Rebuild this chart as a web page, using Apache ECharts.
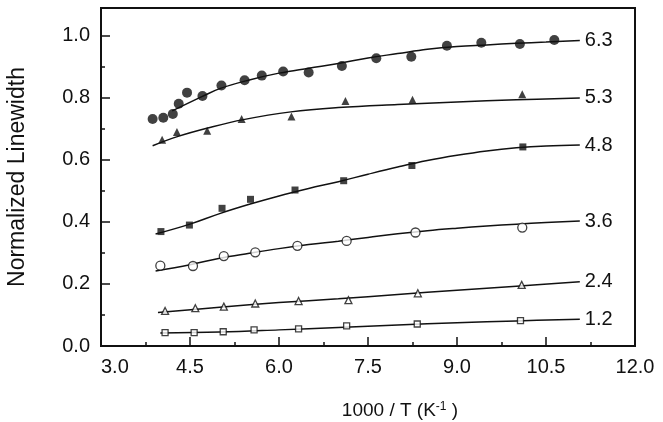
<!DOCTYPE html>
<html>
<head>
<meta charset="utf-8">
<script src="https://cdn.jsdelivr.net/npm/echarts@6/dist/echarts.min.js"></script>
<style>
  html, body { margin: 0; padding: 0; background: #fff; }
  #chart { width: 663px; height: 422px; }
</style>
</head>
<body>
<div id="chart"></div>
<script>
// curve labels (right side)
var curveNames = ["6.3", "5.3", "4.8", "3.6", "2.4", "1.2"];

// measured points [1000/T, normalized linewidth]
var pts63 = [[3.87, 0.732], [4.05, 0.736], [4.21, 0.748], [4.31, 0.781], [4.45, 0.817], [4.71, 0.806],
  [5.03, 0.840], [5.42, 0.857], [5.71, 0.872], [6.07, 0.885], [6.50, 0.882], [7.06, 0.903],
  [7.64, 0.928], [8.23, 0.933], [8.83, 0.968], [9.41, 0.978], [10.06, 0.974], [10.64, 0.987]];
var pts53 = [[4.03, 0.665], [4.28, 0.690], [4.79, 0.694], [5.37, 0.732], [6.21, 0.740], [7.12, 0.790],
  [8.25, 0.794], [10.10, 0.812]];
var pts48 = [[4.01, 0.369], [4.49, 0.390], [5.04, 0.444], [5.52, 0.473], [6.27, 0.503], [7.09, 0.533],
  [8.24, 0.582], [10.11, 0.642]];
var pts36 = [[4.00, 0.259], [4.55, 0.258], [5.07, 0.290], [5.60, 0.302], [6.31, 0.323], [7.14, 0.339],
  [8.30, 0.366], [10.10, 0.382]];
var pts24 = [[4.08, 0.113], [4.59, 0.122], [5.07, 0.127], [5.60, 0.137], [6.33, 0.145], [7.17, 0.148],
  [8.34, 0.170], [10.09, 0.197]];
var pts12 = [[4.08, 0.043], [4.57, 0.043], [5.06, 0.046], [5.58, 0.052], [6.33, 0.055], [7.14, 0.065],
  [8.33, 0.071], [10.07, 0.082]];

// fitted curves
var fit63 = [[4.2, 0.758], [4.7, 0.804], [5.0, 0.830], [5.5, 0.858], [6.0, 0.880], [6.5, 0.896],
  [7.0, 0.911], [7.5, 0.929], [8.0, 0.943], [8.5, 0.957], [9.0, 0.966], [9.5, 0.971],
  [10.0, 0.976], [10.5, 0.980], [11.07, 0.985]];
var fit53 = [[3.87, 0.646], [4.3, 0.676], [4.8, 0.703], [5.4, 0.730], [6.2, 0.755], [7.0, 0.769],
  [8.0, 0.779], [9.0, 0.787], [10.0, 0.794], [11.07, 0.800]];
var fit48 = [[3.92, 0.361], [4.5, 0.393], [5.0, 0.427], [5.5, 0.457], [6.0, 0.484], [6.5, 0.508],
  [7.0, 0.530], [7.5, 0.554], [8.0, 0.577], [8.5, 0.598], [9.0, 0.615], [9.5, 0.629],
  [10.0, 0.639], [10.5, 0.645], [11.07, 0.648]];
var fit36 = [[3.92, 0.242], [4.5, 0.262], [5.0, 0.283], [5.5, 0.299], [6.0, 0.314], [6.5, 0.327],
  [7.0, 0.338], [7.5, 0.350], [8.0, 0.362], [8.5, 0.372], [9.0, 0.380], [9.5, 0.387],
  [10.0, 0.393], [10.5, 0.398], [11.07, 0.403]];
var fit24 = [[3.96, 0.108], [5.0, 0.125], [6.0, 0.140], [7.0, 0.152], [8.0, 0.166], [9.0, 0.180],
  [10.0, 0.193], [11.07, 0.207]];
var fit12 = [[4.0, 0.042], [5.0, 0.045], [6.0, 0.052], [7.0, 0.060], [8.0, 0.068], [9.0, 0.075],
  [10.0, 0.081], [11.07, 0.086]];

var ink = "#111";
var font = "'Liberation Sans', Arial, sans-serif";

var markers = [
  { data: pts63, symbol: "circle", size: 10, open: false },
  { data: pts53, symbol: "triangle", size: 8, open: false },
  { data: pts48, symbol: "rect", size: 7, open: false },
  { data: pts36, symbol: "circle", size: 9, open: true },
  { data: pts24, symbol: "triangle", size: 7, open: true },
  { data: pts12, symbol: "rect", size: 6, open: true }
];
var fits = [fit63, fit53, fit48, fit36, fit24, fit12];

var series = [];
fits.forEach(function (fit, i) {
  series.push({
    type: "line",
    data: fit,
    smooth: 0.4,
    showSymbol: false,
    silent: true,
    z: 1,
    lineStyle: { color: ink, width: 1.5 },
    endLabel: {
      show: true,
      formatter: curveNames[i],
      color: ink,
      fontSize: 20,
      fontFamily: font,
      distance: 5
    }
  });
});
markers.forEach(function (m) {
  series.push({
    type: "scatter",
    data: m.data,
    symbol: m.symbol,
    symbolSize: m.size,
    z: 3,
    itemStyle: m.open
      ? { color: "#fff", borderColor: ink, borderWidth: 1.3 }
      : { color: ink }
  });
});

var myChart = echarts.init(document.getElementById("chart"));
var option = {
  animation: false,
  grid: {
    left: 101, right: 28, top: 8, bottom: 76,
    show: true, borderColor: ink, borderWidth: 2,
    outerBoundsMode: "none"
  },
  xAxis: {
    type: "value",
    min: 3, max: 12, interval: 1.5,
    name: "1000 / T (K{sup|-1} )",
    nameLocation: "middle",
    nameGap: 55,
    nameTextStyle: {
      fontSize: 19, fontFamily: font, color: ink, padding: [0, 0, 0, 64],
      rich: { sup: { fontSize: 12, fontFamily: font, color: ink, verticalAlign: "top", padding: [0, 0, 8, 0] } }
    },
    axisLine: { lineStyle: { color: ink, width: 2 } },
    axisTick: { inside: true, length: 9, lineStyle: { color: ink, width: 1.5 } },
    minorTick: { show: true, splitNumber: 2, length: 4, lineStyle: { color: ink, width: 1.5 } },
    splitLine: { show: false },
    axisLabel: {
      fontSize: 20, fontFamily: font, color: ink, margin: 11,
      alignMinLabel: "left",
      formatter: function (v) { return v.toFixed(1); }
    }
  },
  yAxis: {
    type: "value",
    min: 0, max: 1.09, interval: 0.2,
    name: "Normalized Linewidth",
    nameLocation: "middle",
    nameGap: 72,
    nameTextStyle: { fontSize: 23, fontFamily: font, color: ink },
    axisLine: { lineStyle: { color: ink, width: 2 } },
    axisTick: { inside: true, length: 9, lineStyle: { color: ink, width: 1.5 } },
    minorTick: { show: true, splitNumber: 2, length: 4, lineStyle: { color: ink, width: 1.5 } },
    splitLine: { show: false },
    axisLabel: {
      fontSize: 20, fontFamily: font, color: ink, margin: 11,
      formatter: function (v) { return v > 1.001 ? "" : v.toFixed(1); }
    }
  },
  series: series
};
myChart.setOption(option);
</script>
</body>
</html>
